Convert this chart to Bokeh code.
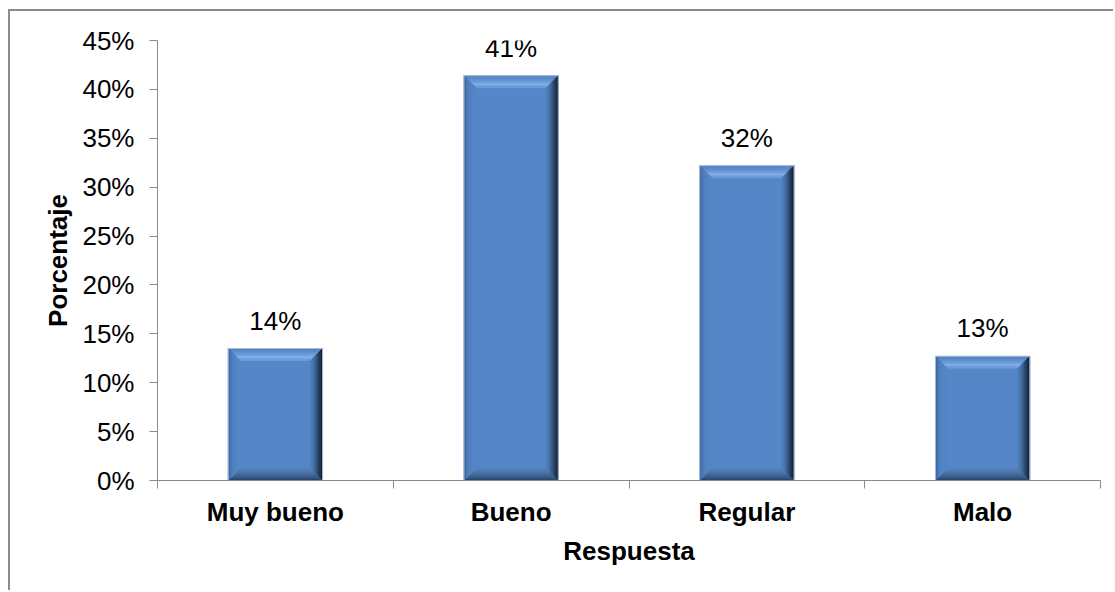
from bokeh.plotting import figure
from bokeh.models import Range1d, LinearAxis, FixedTicker
from bokeh.core.properties import value
from bokeh.embed import file_html
from bokeh.resources import INLINE

# ---- data ----
categories = ["Muy bueno", "Bueno", "Regular", "Malo"]
values = [0.135, 0.414, 0.322, 0.127]
value_labels = ["14%", "41%", "32%", "13%"]
y_ticks = [0, 0.05, 0.1, 0.15, 0.2, 0.25, 0.3, 0.35, 0.4, 0.45]
y_tick_labels = ["0%", "5%", "10%", "15%", "20%", "25%", "30%", "35%", "40%", "45%"]
x_title = "Respuesta"
y_title = "Porcentaje"

FONT = "Liberation Sans"
AXIS_COL = "#8a8a8a"

W, H = 1105, 581
ML, MR, MT, MB = 147, 15, 29, 112
frame_w = W - ML - MR
frame_h = H - MT - MB

n = len(categories)
ymax = y_ticks[-1]

p = figure(width=W, height=H, output_backend="svg", toolbar_location=None,
           x_range=Range1d(0, n), y_range=Range1d(0, ymax),
           min_border_left=ML, min_border_right=MR, min_border_top=MT, min_border_bottom=MB,
           x_axis_location=None, y_axis_location=None)
p.styles = {"margin-left": "8px", "margin-top": "9px",
            "border-left": "2px solid #8c8c8c", "border-top": "2px solid #8c8c8c"}
p.outline_line_color = None
p.xgrid.visible = False
p.ygrid.visible = False
p.background_fill_color = "white"
p.border_fill_color = "white"

# ---- bars with bevel ----
px_x = n / frame_w
px_y = ymax / frame_h
bar_w = 0.4
centers = [i + 0.5 for i in range(n)]

main_col = "#5587c8"
side_cols = {
    "top":    ["#5283c3", "#5a8bcb", "#6594d4", "#71a0de", "#82b0ea", "#6f9dda"],
    "right":  ["#142234", "#1f3350", "#2c476b", "#3a5c88", "#466fa2", "#4f7cb6"],
    "bottom": ["#2a466c", "#34557f", "#3d6190", "#456c9e", "#4c76ab", "#5280bb"],
    "left":   ["#3d679e", "#4a77b3", "#5080bf", "#5383c3", "#5585c6", "#5586c7"],
}
step = 2.0  # px per bevel layer

p.quad(left=[c - bar_w / 2 for c in centers], right=[c + bar_w / 2 for c in centers],
       bottom=[0] * n, top=values, fill_color=main_col, line_color=None)

xs, ys, cols = [], [], []
for c, v in zip(centers, values):
    x0, x1, y0, y1 = c - bar_w / 2, c + bar_w / 2, 0.0, v
    for side, clist in side_cols.items():
        for i, col in enumerate(clist):
            d0, d1 = i * step, (i + 1) * step
            ax0, ax1 = d0 * px_x, d1 * px_x
            ay0, ay1 = d0 * px_y, d1 * px_y
            if side == "top":
                qx = [x0 + ax0, x1 - ax0, x1 - ax1, x0 + ax1]
                qy = [y1 - ay0, y1 - ay0, y1 - ay1, y1 - ay1]
            elif side == "bottom":
                qx = [x0 + ax0, x1 - ax0, x1 - ax1, x0 + ax1]
                qy = [y0 + ay0, y0 + ay0, y0 + ay1, y0 + ay1]
            elif side == "left":
                qx = [x0 + ax0, x0 + ax0, x0 + ax1, x0 + ax1]
                qy = [y0 + ay0, y1 - ay0, y1 - ay1, y0 + ay1]
            else:
                qx = [x1 - ax0, x1 - ax0, x1 - ax1, x1 - ax1]
                qy = [y0 + ay0, y1 - ay0, y1 - ay1, y0 + ay1]
            xs.append(qx)
            ys.append(qy)
            cols.append(col)
p.patches(xs=xs, ys=ys, fill_color=cols, line_color=cols, line_width=0.6)

p.quad(left=[c - bar_w / 2 for c in centers], right=[c + bar_w / 2 for c in centers],
       bottom=[0] * n, top=values, fill_color=None, line_color="#a9bcd6", line_width=1)

# ---- value labels ----
p.text(x=centers, y=values, text=value_labels, text_align="center", text_baseline="bottom",
       y_offset=-13, text_font=value(FONT), text_font_size="26px", text_color="#000000")

# ---- axes ----
xaxis = LinearAxis(ticker=FixedTicker(ticks=centers, minor_ticks=list(range(n + 1))))
xaxis.major_label_overrides = {c: lab for c, lab in zip(centers, categories)}
xaxis.major_tick_out = 0
xaxis.major_tick_in = 0
xaxis.minor_tick_out = 8
xaxis.minor_tick_in = 0
xaxis.axis_line_color = AXIS_COL
xaxis.minor_tick_line_color = AXIS_COL
xaxis.major_label_text_font = FONT
xaxis.major_label_text_font_size = "26px"
xaxis.major_label_text_font_style = "bold"
xaxis.major_label_text_color = "#000000"
xaxis.major_label_standoff = 8
xaxis.axis_label = x_title
xaxis.axis_label_text_font = FONT
xaxis.axis_label_text_font_size = "26px"
xaxis.axis_label_text_font_style = "bold"
xaxis.axis_label_text_color = "#000000"
xaxis.axis_label_standoff = 6
p.add_layout(xaxis, "below")

yaxis = LinearAxis(ticker=FixedTicker(ticks=y_ticks, minor_ticks=[]))
yaxis.major_label_overrides = {t: lab for t, lab in zip(y_ticks, y_tick_labels)}
yaxis.major_tick_out = 8
yaxis.major_tick_in = 0
yaxis.axis_line_color = AXIS_COL
yaxis.major_tick_line_color = AXIS_COL
yaxis.major_label_text_font = FONT
yaxis.major_label_text_font_size = "26px"
yaxis.major_label_text_color = "#000000"
yaxis.major_label_standoff = 15
yaxis.axis_label = y_title
yaxis.axis_label_text_font = FONT
yaxis.axis_label_text_font_size = "26px"
yaxis.axis_label_text_font_style = "bold"
yaxis.axis_label_text_color = "#000000"
yaxis.axis_label_standoff = 6
p.add_layout(yaxis, "left")

open("out.html", "w").write(file_html(p, INLINE))
